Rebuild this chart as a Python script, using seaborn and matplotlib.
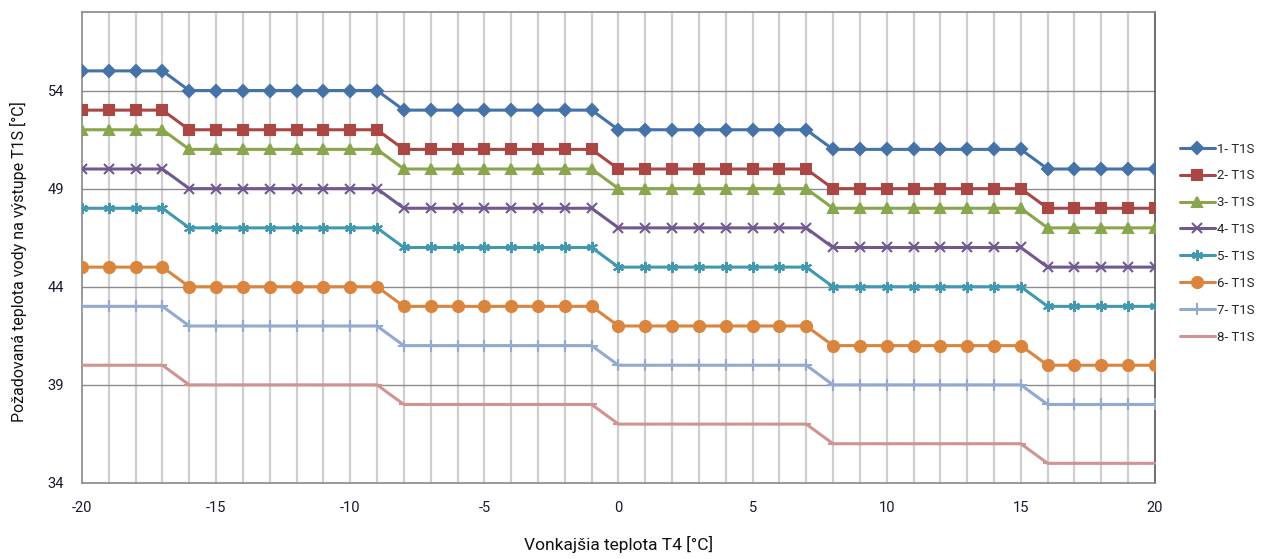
import matplotlib
matplotlib.use("Agg")
import matplotlib.pyplot as plt
import seaborn as sns
import pandas as pd

# outdoor temperature T4 [°C]
t4 = list(range(-20, 21))

# required water outlet temperature T1S for each curve
t1s_1 = [55, 55, 55, 55, 54, 54, 54, 54, 54, 54, 54, 54, 53, 53, 53, 53, 53, 53, 53, 53,
         52, 52, 52, 52, 52, 52, 52, 52, 51, 51, 51, 51, 51, 51, 51, 51, 50, 50, 50, 50, 50]
t1s_2 = [53, 53, 53, 53, 52, 52, 52, 52, 52, 52, 52, 52, 51, 51, 51, 51, 51, 51, 51, 51,
         50, 50, 50, 50, 50, 50, 50, 50, 49, 49, 49, 49, 49, 49, 49, 49, 48, 48, 48, 48, 48]
t1s_3 = [52, 52, 52, 52, 51, 51, 51, 51, 51, 51, 51, 51, 50, 50, 50, 50, 50, 50, 50, 50,
         49, 49, 49, 49, 49, 49, 49, 49, 48, 48, 48, 48, 48, 48, 48, 48, 47, 47, 47, 47, 47]
t1s_4 = [50, 50, 50, 50, 49, 49, 49, 49, 49, 49, 49, 49, 48, 48, 48, 48, 48, 48, 48, 48,
         47, 47, 47, 47, 47, 47, 47, 47, 46, 46, 46, 46, 46, 46, 46, 46, 45, 45, 45, 45, 45]
t1s_5 = [48, 48, 48, 48, 47, 47, 47, 47, 47, 47, 47, 47, 46, 46, 46, 46, 46, 46, 46, 46,
         45, 45, 45, 45, 45, 45, 45, 45, 44, 44, 44, 44, 44, 44, 44, 44, 43, 43, 43, 43, 43]
t1s_6 = [45, 45, 45, 45, 44, 44, 44, 44, 44, 44, 44, 44, 43, 43, 43, 43, 43, 43, 43, 43,
         42, 42, 42, 42, 42, 42, 42, 42, 41, 41, 41, 41, 41, 41, 41, 41, 40, 40, 40, 40, 40]
t1s_7 = [43, 43, 43, 43, 42, 42, 42, 42, 42, 42, 42, 42, 41, 41, 41, 41, 41, 41, 41, 41,
         40, 40, 40, 40, 40, 40, 40, 40, 39, 39, 39, 39, 39, 39, 39, 39, 38, 38, 38, 38, 38]
t1s_8 = [40, 40, 40, 40, 39, 39, 39, 39, 39, 39, 39, 39, 38, 38, 38, 38, 38, 38, 38, 38,
         37, 37, 37, 37, 37, 37, 37, 37, 36, 36, 36, 36, 36, 36, 36, 36, 35, 35, 35, 35, 35]

series_names = ["1- T1S", "2- T1S", "3- T1S", "4- T1S", "5- T1S", "6- T1S", "7- T1S", "8- T1S"]
series_values = [t1s_1, t1s_2, t1s_3, t1s_4, t1s_5, t1s_6, t1s_7, t1s_8]

colors = ["#4572A7", "#AA4643", "#89A54E", "#71588F", "#4198AF", "#DB843D", "#93A9CF", "#D19392"]
markers = ["D", "s", "^", "x", (6, 2, 0), "o", "+", "_"]
msizes = [6.5, 7.5, 7.5, 7, 8, 8, 8, 7]

sns.set_style("white")
plt.rcParams['font.family'] = ['Roboto', 'DejaVu Sans']
plt.rcParams['axes.unicode_minus'] = False

fig = plt.figure(figsize=(12.65, 5.59), dpi=100)
ax = fig.add_axes([0.0648, 0.136, 0.8482, 0.8425])

for name, vals, c, m, ms in zip(series_names, series_values, colors, markers, msizes):
    df = pd.DataFrame({"T4": t4, "T1S": vals})
    sns.lineplot(data=df, x="T4", y="T1S", ax=ax, color=c, linewidth=2.2,
                 marker=m, markersize=ms, markeredgecolor=c, markeredgewidth=1.5,
                 label=name, zorder=3)

ax.set_xlim(-20, 20)
ax.set_ylim(34, 58)
ax.set_yticks([34, 39, 44, 49, 54])
ax.set_xticks(range(-20, 21, 5))
ax.set_xticks(range(-20, 21), minor=True)

# gridlines like the spreadsheet original
for xv in range(-19, 20):
    ax.axvline(xv, color="#cfcfcf", linewidth=1.6, zorder=1)
for yv in [39, 44, 49, 54]:
    ax.axhline(yv, color="#8c8c8c", linewidth=1.0, zorder=1)

for side in ["left", "bottom", "right", "top"]:
    ax.spines[side].set_color("#888888")
    ax.spines[side].set_linewidth(1.2)
ax.spines["right"].set_color("#555555")

ax.tick_params(axis="both", which="both", length=4, color="#888888",
               labelsize=10.5, labelcolor="#1a1a2e", direction="out")
ax.tick_params(axis="x", pad=9)
ax.tick_params(axis="y", pad=9)

ax.set_xlabel("Vonkajšia teplota T4 [°C]", fontsize=12.5, color="#111111")
ax.xaxis.set_label_coords(0.5, -0.112)
ax.set_ylabel("Požadovaná teplota vody na výstupe T1S [°C]", fontsize=11.5, color="#111111")
ax.yaxis.set_label_coords(-0.0596, 0.469)
ax.yaxis.label.set_va("center")

ax.legend(loc="upper left", bbox_to_anchor=(0.933, 0.745), bbox_transform=fig.transFigure,
          frameon=False, fontsize=9.5, handlelength=2.6, handletextpad=0.15,
          labelspacing=1.05, borderaxespad=0.0, borderpad=0.0)

fig.savefig("out.png", dpi=100)
